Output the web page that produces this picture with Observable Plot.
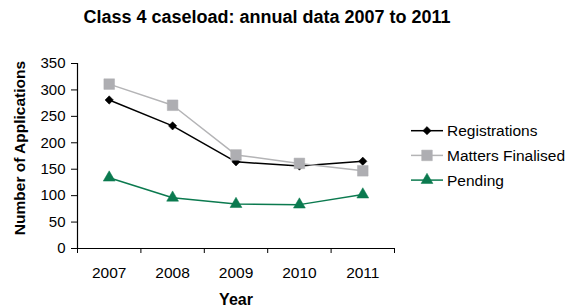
<!DOCTYPE html>
<html><head><meta charset="utf-8">
<script src="https://cdn.jsdelivr.net/npm/d3@7"></script>
<script src="https://cdn.jsdelivr.net/npm/@observablehq/plot@0.6"></script>
<style>
body{margin:0;background:#fff;font-family:"Liberation Sans",Arial,sans-serif;}
#wrap{position:relative;width:572px;height:307px;overflow:hidden;background:#fff}
#title{position:absolute;left:0;width:534px;top:7px;text-align:center;font-weight:bold;font-size:18px;color:#000;white-space:nowrap}
#legend{position:absolute;left:405px;top:115px}
#chart svg{display:block}
</style></head><body>
<div id="wrap">
<div id="chart"></div>
<div id="title">Class 4 caseload: annual data 2007 to 2011</div>
<svg id="legend" width="167" height="80"></svg>
</div>
<script>
const years = [2007, 2008, 2009, 2010, 2011];
const seriesNames = ["Registrations", "Matters Finalised", "Pending"];
const registrations = [281, 232, 164, 156, 165];
const mattersFinalised = [311, 271, 177, 161, 147];
const pending = [134, 96, 84, 83, 102];
const yTicks = [0, 50, 100, 150, 200, 250, 300, 350];
const xBoundaries = [2006.5, 2007.5, 2008.5, 2009.5, 2010.5, 2011.5];

const seriesValues = [registrations, mattersFinalised, pending];
const lineColors = ["#000000", "#b4b4b6", "#0b7a4f"];
const markColors = ["#000000", "#aeaeb2", "#0b7a4f"];
const plotSymbols = ["diamond2", "square", "triangle"];
const d3Symbols = [d3.symbolDiamond2, d3.symbolSquare, d3.symbolTriangle];
const symbolR = [3.75, 6, 4.4];

const rows = seriesNames.flatMap((s, si) =>
  years.map((yr, i) => ({series: s, year: yr, value: seriesValues[si][i]})));

const marks = [
  Plot.ruleY([0], {stroke: "#000", strokeWidth: 1.2}),
  Plot.ruleX([2006.5], {stroke: "#000", strokeWidth: 1.2}),
  Plot.axisY(yTicks, {tickSize: 6, tickPadding: 6, fontSize: 15, label: null, stroke: "#000"}),
  Plot.axisX(xBoundaries, {tickSize: 5, tickFormat: () => "", label: null, stroke: "#000"}),
  Plot.axisX(years, {tickSize: 0, tickPadding: 18, fontSize: 15.5, tickFormat: d => String(d), label: null}),
  Plot.text(["Number of Applications"], {frameAnchor: "left", textAnchor: "middle", rotate: -90, dx: -57, dy: -8, fontWeight: "bold", fontSize: 15.5, fill: "#000"}),
  Plot.text(["Year"], {frameAnchor: "bottom", dy: 56, fontWeight: "bold", fontSize: 16, fill: "#000"})
];
seriesNames.forEach((s, si) => {
  const d = rows.filter(r => r.series === s);
  marks.push(Plot.line(d, {x: "year", y: "value", stroke: lineColors[si], strokeWidth: 1.5}));
  marks.push(Plot.dot(d, {x: "year", y: "value", symbol: plotSymbols[si], r: symbolR[si], fill: markColors[si], stroke: markColors[si], strokeWidth: 0.5}));
});

const chart = Plot.plot({
  width: 572,
  height: 307,
  marginLeft: 77,
  marginRight: 178,
  marginTop: 63,
  marginBottom: 59,
  style: {fontFamily: "'Liberation Sans', Arial, sans-serif", color: "#000", background: "#fff"},
  x: {type: "linear", domain: [2006.5, 2011.5], axis: null},
  y: {domain: [0, 350], axis: null},
  marks
});
document.getElementById("chart").appendChild(chart);

// legend
const lg = d3.select("#legend");
seriesNames.forEach((s, i) => {
  const cy = 15.7 + i * 24.7;
  lg.append("line").attr("x1", 6).attr("x2", 38).attr("y1", cy).attr("y2", cy)
    .attr("stroke", lineColors[i]).attr("stroke-width", 1.5);
  lg.append("path").attr("transform", `translate(22,${cy})`)
    .attr("d", d3.symbol(d3Symbols[i], symbolR[i] * symbolR[i] * Math.PI)())
    .attr("fill", markColors[i]).attr("stroke", markColors[i]).attr("stroke-width", 0.5);
  lg.append("text").attr("x", 42).attr("y", cy).attr("dy", "0.35em")
    .attr("font-size", 15.5).attr("fill", "#000").text(s);
});
</script>
</body></html>
